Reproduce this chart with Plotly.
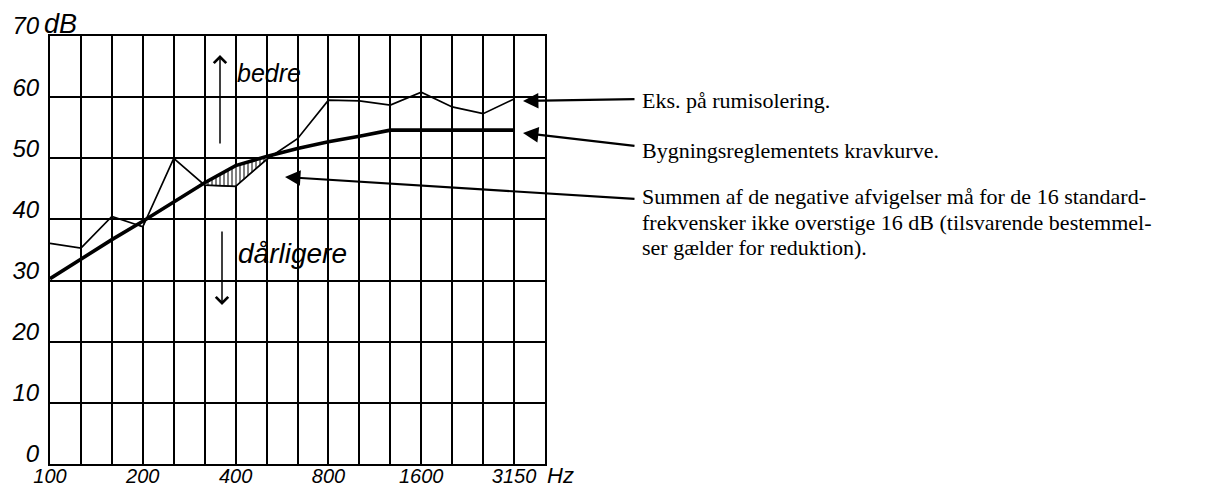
import plotly.graph_objects as go
import numpy as np

# ---------------- data ----------------
bands = ["100", "125", "160", "200", "250", "315", "400", "500",
         "630", "800", "1000", "1250", "1600", "2000", "2500", "3150"]
measured = [36.1, 35.3, 40.5, 38.8, 50.0, 45.6, 45.4, 49.8,
            53.2, 59.5, 59.4, 58.7, 60.8, 58.4, 57.3, 59.7]
required = [30.3, 33.5, 36.7, 39.7, 42.9, 46.0, 48.8, 50.3,
            51.6, 52.7, 53.6, 54.6, 54.6, 54.6, 54.6, 54.6]
x_labels = ["100", "200", "400", "800", "1600", "3150"]
y_labels = ["0", "10", "20", "30", "40", "50", "60", "70"]
y_values = [0, 10, 20, 30, 40, 50, 60, 70]

label_measured = "Eks. på rumisolering."
label_required = "Bygningsreglementets kravkurve."
label_note = ["Summen af de negative afvigelser må for de 16 standard-",
              "frekvensker ikke overstige 16 dB (tilsvarende bestemmel-",
              "ser gælder for reduktion)."]

# ---------------- geometry (page has an 8px body margin) ----------------
OFF = 8
W, H = 1207 - OFF, 488 - OFF
ML, MT = 50 - OFF, 36 - OFF
PW, PH = 495, 428
MR, MB = W - ML - PW, H - MT - PH


def px(xv):  # viewport pixel -> paper fraction
    return (xv - OFF - ML) / PW


def py(yv):
    return (MT + PH - (yv - OFF)) / PH


hand = dict(family="Liberation Sans", color="black")
serif = dict(family="Liberation Serif", size=22, color="black")

xi = np.arange(len(bands))
meas = np.array(measured)
req = np.array(required)

fig = go.Figure()

# ---------------- hatched deficit regions ----------------
pts = []  # (x, top, bottom)
for i in range(len(xi)):
    pts.append((float(xi[i]), req[i], meas[i]))
    if i < len(xi) - 1:
        d0 = req[i] - meas[i]
        d1 = req[i + 1] - meas[i + 1]
        if d0 * d1 < 0:
            t = d0 / (d0 - d1)
            xc = xi[i] + t
            yc = req[i] + t * (req[i + 1] - req[i])
            pts.append((float(xc), yc, yc))
regions, cur = [], []
for p in pts:
    if p[1] >= p[2] - 1e-9:
        cur.append(p)
    else:
        if len(cur) > 1:
            regions.append(cur)
        cur = []
if len(cur) > 1:
    regions.append(cur)
for reg in regions:
    xs = [p[0] for p in reg] + [p[0] for p in reversed(reg)]
    ys = [p[1] for p in reg] + [p[2] for p in reversed(reg)]
    fig.add_trace(go.Scatter(
        x=xs, y=ys, mode="lines", fill="toself",
        line=dict(width=1.0, color="black"),
        fillcolor="white",
        fillpattern=dict(shape="|", fgcolor="black", bgcolor="white",
                         size=4, solidity=0.5),
        hoverinfo="skip", showlegend=False))

# ---------------- curves ----------------
fig.add_trace(go.Scatter(x=xi, y=measured, mode="lines",
                         line=dict(color="black", width=1.7),
                         name=label_measured, showlegend=False))
fig.add_trace(go.Scatter(x=xi, y=required, mode="lines",
                         line=dict(color="black", width=3.6),
                         name=label_required, showlegend=False))

# ---------------- axes ----------------
tickvals_x = list(range(len(bands) + 1))
ticktext_x = [(bands[i] if i < len(bands) and bands[i] in x_labels else "")
              for i in tickvals_x]

fig.update_xaxes(range=[0, len(bands)], tickmode="array",
                 tickvals=tickvals_x, ticktext=ticktext_x,
                 showgrid=True, gridcolor="black", gridwidth=2,
                 showline=True, mirror=True, linecolor="black", linewidth=2,
                 ticks="", ticklabelstandoff=-7, zeroline=False,
                 automargin=False,
                 tickfont=dict(**hand, size=20, style="italic"))
fig.update_yaxes(range=[0, 70], tickmode="array",
                 tickvals=y_values, ticktext=y_labels,
                 showgrid=True, gridcolor="black", gridwidth=2,
                 showline=True, mirror=True, linecolor="black", linewidth=2,
                 ticks="", ticklabelshift=-10, ticklabelstandoff=4,
                 zeroline=False, automargin=False,
                 tickfont=dict(**hand, size=24, style="italic"))

ann = []
# units
ann.append(dict(text="dB", xref="paper", yref="paper", x=px(42), y=py(24),
                xanchor="left", yanchor="middle", showarrow=False,
                font=dict(**hand, size=27, style="italic")))
ann.append(dict(text="Hz", xref="paper", yref="paper", x=px(545), y=py(475),
                xanchor="left", yanchor="middle", showarrow=False,
                font=dict(**hand, size=22, style="italic")))
# bedre / dårligere
ann.append(dict(text="bedre", xref="paper", yref="paper", x=px(235), y=py(73),
                xanchor="left", yanchor="middle", showarrow=False,
                font=dict(**hand, size=25, style="italic")))
ann.append(dict(text="dårligere", xref="paper", yref="paper", x=px(236), y=py(253),
                xanchor="left", yanchor="middle", showarrow=False,
                font=dict(**hand, size=28, style="italic")))
ann.append(dict(text="", xref="paper", yref="paper", x=px(220), y=py(55),
                ax=0, ay=90, showarrow=True,
                arrowhead=4, arrowsize=1.6, arrowwidth=1.5, arrowcolor="black",
                standoff=0))
ann.append(dict(text="", xref="paper", yref="paper", x=px(222), y=py(305),
                ax=0, ay=-75, showarrow=True,
                arrowhead=4, arrowsize=1.6, arrowwidth=1.5, arrowcolor="black",
                standoff=0))

# call-out arrows
for (tx, ty, tailx, taily) in [(523, 101, 636, 99), (523, 133, 636, 146),
                               (285, 177, 636, 199)]:
    ann.append(dict(text="", xref="paper", yref="paper", x=px(tx), y=py(ty),
                    ax=tailx - tx, ay=taily - ty, showarrow=True,
                    arrowhead=2, arrowsize=1.4, arrowwidth=2.2,
                    arrowcolor="black", standoff=0))

# call-out texts
ann.append(dict(text=label_measured, xref="paper", yref="paper",
                x=px(640), y=py(100), xanchor="left", yanchor="middle",
                showarrow=False, font=serif))
ann.append(dict(text=label_required, xref="paper", yref="paper",
                x=px(640), y=py(150), xanchor="left", yanchor="middle",
                showarrow=False, font=serif))
for k, line in enumerate(label_note):
    ann.append(dict(text=line, xref="paper", yref="paper",
                    x=px(640), y=py(197 + 25 * k), xanchor="left",
                    yanchor="middle", showarrow=False, font=serif))

fig.update_layout(width=W, height=H,
                  margin=dict(l=ML, r=MR, t=MT, b=MB, pad=0),
                  plot_bgcolor="white", paper_bgcolor="white",
                  showlegend=False, annotations=ann)

fig.write_html("out.html")
